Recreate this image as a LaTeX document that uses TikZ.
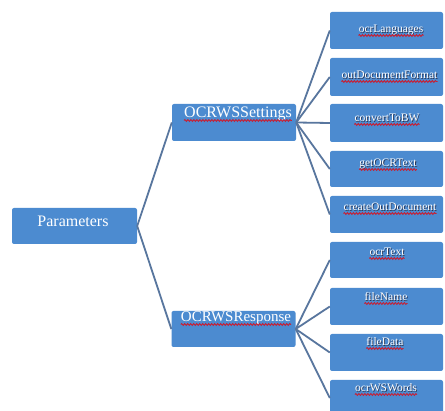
\documentclass[tikz,border=0pt]{standalone}
\usepackage{fontspec}
\setmainfont{Liberation Serif}
\newfontfamily\tnr{Liberation Serif}
\usetikzlibrary{decorations.pathmorphing}
\definecolor{boxblue}{RGB}{76,139,208}
\definecolor{linec}{RGB}{88,118,158}
\definecolor{shadowc}{RGB}{40,50,80}
\definecolor{wavyred}{RGB}{200,30,50}
\newcommand\shtxt[1]{\makebox[0pt][l]{\raisebox{-0.8pt}{\hspace{0.8pt}\textcolor{shadowc}{#1}}}\textcolor{white}{#1}}
\tikzset{
  box/.style={fill=boxblue, rounded corners=2pt, inner sep=0pt},
  leafbox/.style={box, minimum width=113pt},
  midbox/.style={box, minimum width=124pt, minimum height=37pt},
  conn/.style={draw=linec, line width=1.8pt},
  bigtxt/.style={anchor=base, inner sep=0pt, text=white, font=\tnr\fontsize{16}{18}\selectfont},
  smalltxt/.style={anchor=base, inner sep=0pt, font=\tnr\fontsize{11.5}{13}\selectfont},
  wavy/.style={draw=wavyred, line width=0.9pt, decorate, decoration={snake, segment length=3pt, amplitude=0.9pt}}
}
\begin{document}
\begin{tikzpicture}[x=1pt,y=-1pt]
\useasboundingbox (0,0) rectangle (445,411);
\fill[white] (0,0) rectangle (445,411);

% boxes
\node[box, minimum width=125pt, minimum height=36pt] (par) at (74.5,226) {};
\node[midbox] (set) at (234,122.5) {};
\node[midbox, minimum height=36pt] (res) at (233.5,329) {};

\node[leafbox, minimum height=37pt] (b1) at (386.5,30.5) {};
\node[leafbox, minimum height=38pt] (b2) at (386.5,77) {};
\node[leafbox, minimum height=38pt] (b3) at (386.5,123) {};
\node[leafbox, minimum height=36pt] (b4) at (386.5,169) {};
\node[leafbox, minimum height=37pt] (b5) at (386.5,214.5) {};
\node[leafbox, minimum height=36pt] (b6) at (386.5,260) {};
\node[leafbox, minimum height=37pt] (b7) at (386.5,306.5) {};
\node[leafbox, minimum height=37pt] (b8) at (386.5,352.5) {};
\node[leafbox, minimum height=36pt] (b9) at (386.5,398) {};

% connectors
\draw[conn] (par.east) -- (set.west);
\draw[conn] (par.east) -- (res.west);
\foreach \b in {b1,b2,b3,b4,b5} \draw[conn] (set.east) -- (\b.west);
\foreach \b in {b6,b7,b8,b9} \draw[conn] (res.east) -- (\b.west);

% texts
\node[bigtxt] (tpar) at (73,227) {Parameters};
\node[bigtxt] (tset) at (238,118) {OCRWSSettings};
\node[bigtxt, font=\tnr\fontsize{15}{17}\selectfont] (tres) at (236,322) {OCRWSResponse};

\node[smalltxt] (t1) at (391,33) {\shtxt{ocrLanguages}};
\node[smalltxt] (t2) at (389.5,79) {\shtxt{outDocumentFormat}};
\node[smalltxt] (t3) at (387,122) {\shtxt{convertToBW}};
\node[smalltxt] (t4) at (388,167) {\shtxt{getOCRText}};
\node[smalltxt] (t5) at (390,211) {\shtxt{createOutDocument}};
\node[smalltxt] (t6) at (387,256) {\shtxt{ocrText}};
\node[smalltxt] (t7) at (386,301) {\shtxt{fileName}};
\node[smalltxt] (t8) at (385,346) {\shtxt{fileData}};
\node[smalltxt] (t9) at (386,392) {\shtxt{ocrWSWords}};

% spell-check underlines
\foreach \t in {tset,tres,t1,t2,t3,t4,t5,t6,t7,t8,t9}
  \draw[wavy] ([yshift=-2.5pt]\t.base west) -- ([yshift=-2.5pt]\t.base east);
\end{tikzpicture}
\end{document}
